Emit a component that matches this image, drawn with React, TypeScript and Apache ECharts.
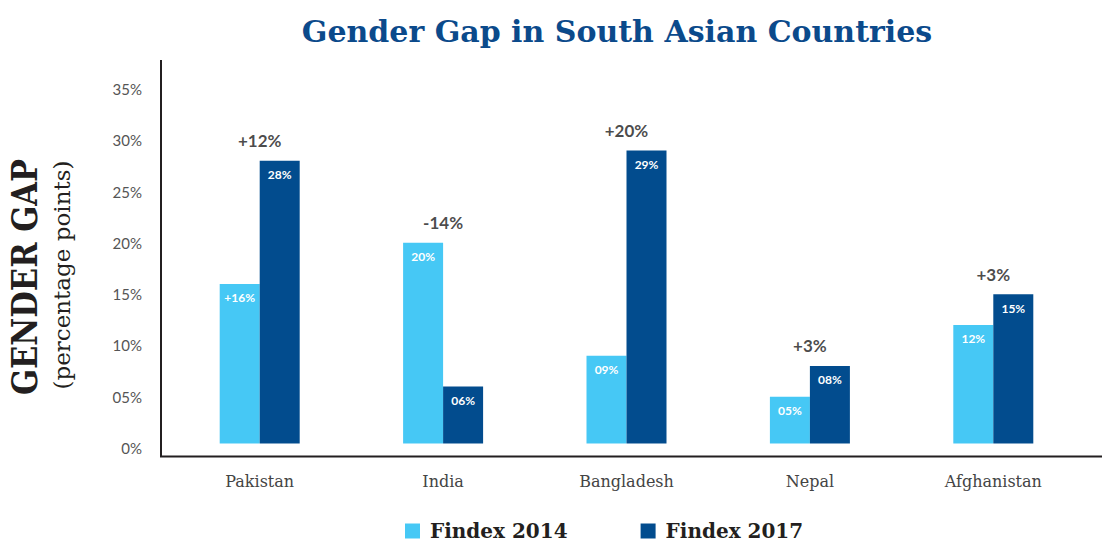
import React, { useEffect, useRef } from "react";
import * as echarts from "echarts";

const categories = ["Pakistan", "India", "Bangladesh", "Nepal", "Afghanistan"];
const findex2014 = [16, 20, 9, 5, 12];
const findex2017 = [28, 6, 29, 8, 15];
const labels2014 = ["+16%", "20%", "09%", "05%", "12%"];
const labels2017 = ["28%", "06%", "29%", "08%", "15%"];
const changeLabels = ["+12%", "-14%", "+20%", "+3%", "+3%"];
const yTickLabels = ["0%", "05%", "10%", "15%", "20%", "25%", "30%", "35%"];

const LIGHT = "#46c8f5";
const DARK = "#024c8e";
const SERIF = "'DejaVu Serif', 'Liberation Serif', serif";

export default function App() {
  const ref = useRef<HTMLDivElement>(null);
  useEffect(() => {
    if (!ref.current) return;
    const chart = echarts.init(ref.current, null, { renderer: "svg" });
    const groupMax = findex2014.map((v, i) => Math.max(v, findex2017[i]));
    chart.setOption({
      animation: false,
      backgroundColor: "#ffffff",
      title: {
        text: "Gender Gap in South Asian Countries",
        left: 612,
        top: 11,
        textAlign: "center",
        textStyle: {
          fontFamily: SERIF,
          fontWeight: "bold",
          fontSize: 30,
          color: "#0b4a8b",
        },
      },
      legend: {
        left: 400,
        top: 516,
        itemWidth: 15,
        itemHeight: 15,
        itemGap: 73,
        icon: "rect",
        data: ["Findex 2014", "Findex 2017"],
        textStyle: {
          fontFamily: SERIF,
          fontWeight: "bold",
          fontSize: 20,
          color: "#231f20",
          padding: [0, 0, 0, 5],
        },
      },
      grid: { left: 168, right: 17, top: 89, bottom: 94 },
      xAxis: {
        type: "category",
        data: categories,
        axisLine: { show: false },
        axisTick: { show: false },
        splitLine: { show: false },
        axisLabel: {
          margin: 25,
          fontFamily: SERIF,
          fontSize: 16,
          color: "#444444",
        },
      },
      yAxis: {
        type: "value",
        min: 0,
        max: 35,
        interval: 5,
        axisLine: { show: false },
        axisTick: { show: false },
        splitLine: { show: false },
        axisLabel: {
          margin: 26,
          fontFamily: "Lato",
          fontSize: 15,
          color: "#555555",
          formatter: (v: number) => yTickLabels[Math.round(v / 5)] ?? "",
        },
      },
      series: [
        {
          name: "Findex 2014",
          type: "bar",
          data: findex2014,
          barWidth: 40,
          barGap: "0%",
          itemStyle: { color: LIGHT },
          label: {
            show: true,
            position: "insideTop",
            distance: 8,
            color: "#ffffff",
            fontFamily: "Lato",
            fontWeight: "bold",
            fontSize: 12,
            formatter: (p: any) => labels2014[p.dataIndex],
          },
        },
        {
          name: "Findex 2017",
          type: "bar",
          data: findex2017,
          barWidth: 40,
          barGap: "0%",
          itemStyle: { color: DARK },
          label: {
            show: true,
            position: "insideTop",
            distance: 8,
            color: "#ffffff",
            fontFamily: "Lato",
            fontWeight: "bold",
            fontSize: 12,
            formatter: (p: any) => labels2017[p.dataIndex],
          },
        },
        {
          name: "change",
          type: "scatter",
          data: groupMax,
          symbolSize: 1,
          itemStyle: { color: "rgba(0,0,0,0)" },
          silent: true,
          label: {
            show: true,
            position: "top",
            distance: 11,
            color: "#1a1a1a",
            fontFamily: "Lato",
            fontWeight: "bold",
            fontSize: 17,
            formatter: (p: any) => changeLabels[p.dataIndex],
          },
        },
      ],
      graphic: [
        {
          type: "rect",
          z: 50,
          shape: { x: 163, y: 443.5, width: 939, height: 6 },
          style: { fill: "#ffffff" },
        },
        {
          type: "polyline",
          z: 60,
          shape: { points: [[161, 60], [161, 456.5], [1102, 456.5]] },
          style: { stroke: "#231f20", lineWidth: 2, fill: "none" },
        },
        {
          type: "text",
          z: 60,
          x: 25,
          y: 277,
          rotation: Math.PI / 2,
          scaleX: 0.85,
          style: {
            text: "GENDER GAP",
            fontFamily: SERIF,
            fontWeight: "bold",
            fontSize: 36,
            fill: "#231f20",
            align: "center",
            verticalAlign: "middle",
          },
        },
        {
          type: "text",
          z: 60,
          x: 62,
          y: 275,
          rotation: Math.PI / 2,
          style: {
            text: "(percentage points)",
            fontFamily: SERIF,
            fontSize: 23,
            fill: "#231f20",
            align: "center",
            verticalAlign: "middle",
          },
        },
      ],
    });
    return () => chart.dispose();
  }, []);
  return (
    <div
      ref={ref}
      style={{ position: "absolute", left: 0, top: 0, width: 1102, height: 542 }}
    />
  );
}
